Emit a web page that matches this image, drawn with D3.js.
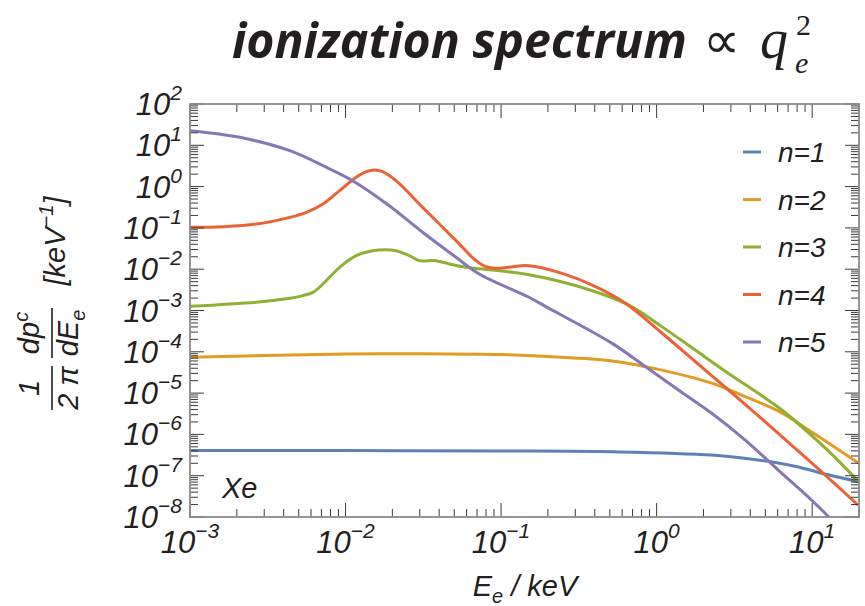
<!DOCTYPE html>
<html>
<head>
<meta charset="utf-8">
<script src="https://cdn.jsdelivr.net/npm/d3@7"></script>
<style>
  body { margin: 0; background: #fff; }
  text { font-family: 'Liberation Sans', Arial, sans-serif; font-style: italic; fill: #231f20; }
  text.serif { font-family: 'Liberation Serif', 'Times New Roman', serif; }
</style>
</head>
<body>
<script>
const WIDTH = 865;
const HEIGHT = 606;
const MARGIN = { left: 190, right: 6, top: 104, bottom: 89 };

// (E in keV, spectrum in keV^-1)
const energyN1 = [1e-3, 1e-2, 0.1, 0.52, 2.26, 4.73, 7.74, 12.7, 20];
const valueN1 = [4.07e-7, 4.05e-7, 3.98e-7, 3.8e-7, 3.16e-7, 2.34e-7, 1.7e-7, 1.05e-7, 7.1e-8];

const energyN2 = [1e-3, 3e-3, 1e-2, 3e-2, 0.1, 0.2, 0.52, 1.08, 2.26, 3.71, 6.05, 9.91, 20];
const valueN2 = [7.4e-5, 8.1e-5, 8.9e-5, 9.0e-5, 8.6e-5, 7.7e-5, 6.0e-5, 3.6e-5, 1.74e-5, 8.2e-6, 3.7e-6, 1.15e-6, 2.0e-7];

const energyN3 = [1e-3, 2.67e-3, 4.38e-3, 5.32e-3, 6.18e-3, 7.16e-3, 9.16e-3, 1.17e-2, 1.5e-2, 1.82e-2, 2.11e-2,
  2.57e-2, 2.98e-2, 3.81e-2, 4.65e-2, 5.94e-2, 8.38e-2, 0.151, 0.316, 0.662, 1.08, 1.77, 2.9, 4.73, 6.24, 7.74, 12.7, 19.7];
const valueN3 = [1.26e-3, 1.58e-3, 1.97e-3, 2.29e-3, 2.75e-3, 4.39e-3, 1.11e-2, 2.13e-2, 2.81e-2, 2.97e-2, 2.81e-2,
  2.13e-2, 1.61e-2, 1.61e-2, 1.34e-2, 1.11e-2, 9.75e-3, 7.36e-3, 3.8e-3, 1.35e-3, 4.07e-4, 1.1e-4, 2.99e-5, 8.7e-6, 4.17e-6, 2.14e-6, 3.98e-7, 7.4e-8];

const energyN4 = [1e-3, 1.64e-3, 2.67e-3, 4.38e-3, 5.6e-3, 7.16e-3, 9.16e-3, 1.17e-2, 1.36e-2, 1.53e-2, 1.73e-2, 2.11e-2,
  3.13e-2, 5.13e-2, 6.89e-2, 7.98e-2, 9.25e-2, 0.112, 0.151, 0.247, 0.405, 0.63, 1.08, 1.77, 3.04, 4.73, 7.74, 12.7, 19.7];
const valueN4 = [0.103, 0.107, 0.124, 0.18, 0.238, 0.379, 0.798, 1.68, 2.3, 2.52, 2.3, 1.39,
  0.315, 4.91e-2, 1.61e-2, 1.15e-2, 1.05e-2, 1.11e-2, 1.22e-2, 7.94e-3, 3.8e-3, 1.5e-3, 2.85e-4, 5.82e-5, 1.02e-5, 2.4e-6, 4.68e-7, 8.9e-8, 1.95e-8];

const energyN5 = [1e-3, 2.09e-3, 4.38e-3, 7.16e-3, 1.11e-2, 1.91e-2, 3.13e-2, 5.13e-2, 7.23e-2, 0.151, 0.194,
  0.518, 0.847, 1.38, 2.26, 3.71, 6.05, 9.91, 13.0, 14.5];
const valueN5 = [22.6, 15.6, 7.41, 3.21, 1.39, 0.345, 7.82e-2, 1.94e-2, 7.66e-3, 2.09e-3, 1.24e-3,
  1.6e-4, 4.37e-5, 1.19e-5, 3.24e-6, 7.31e-7, 1.37e-7, 2.57e-8, 9.3e-9, 5.5e-9];

const seriesLabels = ['n=1', 'n=2', 'n=3', 'n=4', 'n=5'];
const seriesColors = ['#5e81b5', '#e19c24', '#8fb032', '#eb6235', '#8778b3'];
const xTickExponents = [-3, -2, -1, 0, 1];
const yTickExponents = [-8, -7, -6, -5, -4, -3, -2, -1, 0, 1, 2];

const series = [
  [energyN1, valueN1], [energyN2, valueN2], [energyN3, valueN3], [energyN4, valueN4], [energyN5, valueN5],
].map(([es, vs], i) => ({
  label: seriesLabels[i],
  color: seriesColors[i],
  points: es.map((e, j) => [e, vs[j]]),
}));

const svg = d3.select('body').append('svg')
  .attr('width', WIDTH)
  .attr('height', HEIGHT);

const x = d3.scaleLog().domain([1e-3, 20]).range([MARGIN.left, WIDTH - MARGIN.right]);
const y = d3.scaleLog().domain([1e-8, 1e2]).range([HEIGHT - MARGIN.bottom, MARGIN.top]);

const plotLeft = x.range()[0];
const plotRight = x.range()[1];
const plotTop = y.range()[1];
const plotBottom = y.range()[0];

// curves, clipped to the frame
svg.append('clipPath').attr('id', 'plot-clip')
  .append('rect')
  .attr('x', plotLeft).attr('y', plotTop)
  .attr('width', plotRight - plotLeft).attr('height', plotBottom - plotTop);

const line = d3.line()
  .x((d) => x(d[0]))
  .y((d) => y(d[1]))
  .curve(d3.curveCatmullRom.alpha(0.5));

svg.append('g').attr('clip-path', 'url(#plot-clip)')
  .selectAll('path')
  .data(series)
  .join('path')
  .attr('d', (d) => line(d.points))
  .attr('fill', 'none')
  .attr('stroke', (d) => d.color)
  .attr('stroke-width', 3)
  .attr('stroke-linejoin', 'round');

// ticks on all four sides, pointing inward
const MAJOR = 14;
const MINOR = 8;
const xTicks = [];
xTickExponents.forEach((p) => {
  xTicks.push({ v: 10 ** p, major: true });
  for (let k = 2; k <= 9; k += 1) if (k * 10 ** p <= 20) xTicks.push({ v: k * 10 ** p, major: false });
});
const yTicks = [];
yTickExponents.forEach((p) => {
  yTicks.push({ v: 10 ** p, major: true });
  if (p < 2) for (let k = 2; k <= 9; k += 1) yTicks.push({ v: k * 10 ** p, major: false });
});

const ticks = svg.append('g').attr('stroke', '#3a3a3a').attr('stroke-width', 1);
[[plotBottom, -1], [plotTop, 1]].forEach(([y0, dir]) => {
  ticks.append('g').selectAll('line')
    .data(xTicks)
    .join('line')
    .attr('x1', (d) => x(d.v)).attr('x2', (d) => x(d.v))
    .attr('y1', y0).attr('y2', (d) => y0 + dir * (d.major ? MAJOR : MINOR));
});
[[plotLeft, 1], [plotRight, -1]].forEach(([x0, dir]) => {
  ticks.append('g').selectAll('line')
    .data(yTicks)
    .join('line')
    .attr('y1', (d) => y(d.v)).attr('y2', (d) => y(d.v))
    .attr('x1', x0).attr('x2', (d) => x0 + dir * (d.major ? MAJOR : MINOR));
});

// frame
svg.append('rect')
  .attr('x', plotLeft).attr('y', plotTop)
  .attr('width', plotRight - plotLeft).attr('height', plotBottom - plotTop)
  .attr('fill', 'none')
  .attr('stroke', '#8a8a8a')
  .attr('stroke-width', 1.8);

// tick labels 10^n
function powerLabel(sel, p) {
  sel.append('tspan').text('10');
  sel.append('tspan')
    .attr('dy', -15)
    .attr('font-size', 21)
    .text(p < 0 ? `\u2212${-p}` : `${p}`);
}

svg.append('g').selectAll('text')
  .data(xTickExponents)
  .join('text')
  .attr('x', (d) => x(10 ** d))
  .attr('y', 553)
  .attr('text-anchor', 'middle')
  .attr('font-size', 31)
  .each(function (d) { powerLabel(d3.select(this), d); });

svg.append('g').selectAll('text')
  .data(yTickExponents)
  .join('text')
  .attr('x', 182)
  .attr('y', (d) => y(10 ** d) + 11)
  .attr('text-anchor', 'end')
  .attr('font-size', 31)
  .each(function (d) { powerLabel(d3.select(this), d); });

// x axis title
const xTitle = svg.append('text')
  .attr('x', 525)
  .attr('y', 596)
  .attr('text-anchor', 'middle')
  .attr('font-size', 29);
xTitle.append('tspan').text('E');
xTitle.append('tspan').attr('dy', 7).attr('font-size', 20).text('e');
xTitle.append('tspan').attr('dy', -7).text(' / keV');

// y axis title, rotated
const yTitle = svg.append('g').attr('transform', 'translate(52,300) rotate(-90)');
yTitle.append('line').attr('x1', -110).attr('x2', -66).attr('stroke', '#231f20').attr('stroke-width', 1.6);
yTitle.append('line').attr('x1', -58).attr('x2', -8).attr('stroke', '#231f20').attr('stroke-width', 1.6);
yTitle.append('text').attr('x', -88).attr('y', -13).attr('text-anchor', 'middle').attr('font-size', 29).text('1');
yTitle.append('text').attr('x', -88).attr('y', 26).attr('text-anchor', 'middle').attr('font-size', 29).text('2 \u03c0');
const dp = yTitle.append('text').attr('x', -33).attr('y', -13).attr('text-anchor', 'middle').attr('font-size', 29);
dp.append('tspan').text('dp');
dp.append('tspan').attr('dy', -11).attr('font-size', 20).text('c');
const dE = yTitle.append('text').attr('x', -33).attr('y', 26).attr('text-anchor', 'middle').attr('font-size', 29);
dE.append('tspan').text('dE');
dE.append('tspan').attr('dy', 7).attr('font-size', 20).text('e');
const unit = yTitle.append('text').attr('x', 59).attr('y', 13).attr('text-anchor', 'middle').attr('font-size', 29);
unit.append('tspan').text('[keV');
unit.append('tspan').attr('dy', -12).attr('font-size', 20).text('\u22121');
unit.append('tspan').attr('dy', 12).text(']');

// element label
svg.append('text')
  .attr('x', 222)
  .attr('y', 498)
  .attr('font-size', 29)
  .text('Xe');

// legend
const legend = svg.append('g').selectAll('g')
  .data(series)
  .join('g')
  .attr('transform', (d, i) => `translate(743, ${152 + i * 47.5})`);
legend.append('line')
  .attr('x1', 0).attr('x2', 18)
  .attr('stroke', (d) => d.color)
  .attr('stroke-width', 3);
legend.append('text')
  .attr('x', 35)
  .attr('y', 10)
  .attr('font-size', 28)
  .text((d) => d.label);

// title
const title = svg.append('text')
  .attr('x', 232)
  .attr('y', 58)
  .style('font-family', "'Open Sans', sans-serif")
  .style('font-weight', 'bold')
  .style('font-style', 'italic')
  .attr('font-size', 50)
  .text('ionization spectrum');
const titleLen = title.node().getComputedTextLength();
title.attr('font-size', (50 * 455) / titleLen);

svg.append('text').attr('class', 'serif').attr('x', 703).attr('y', 58)
  .attr('font-size', 52).style('font-style', 'normal').text('\u221d');
svg.append('text').attr('class', 'serif').attr('x', 760).attr('y', 58)
  .attr('font-size', 56).text('q');
svg.append('text').attr('class', 'serif').attr('x', 796).attr('y', 35)
  .attr('font-size', 30).style('font-style', 'normal').text('2');
svg.append('text').attr('class', 'serif').attr('x', 795).attr('y', 73)
  .attr('font-size', 30).text('e');
</script>
</body>
</html>
